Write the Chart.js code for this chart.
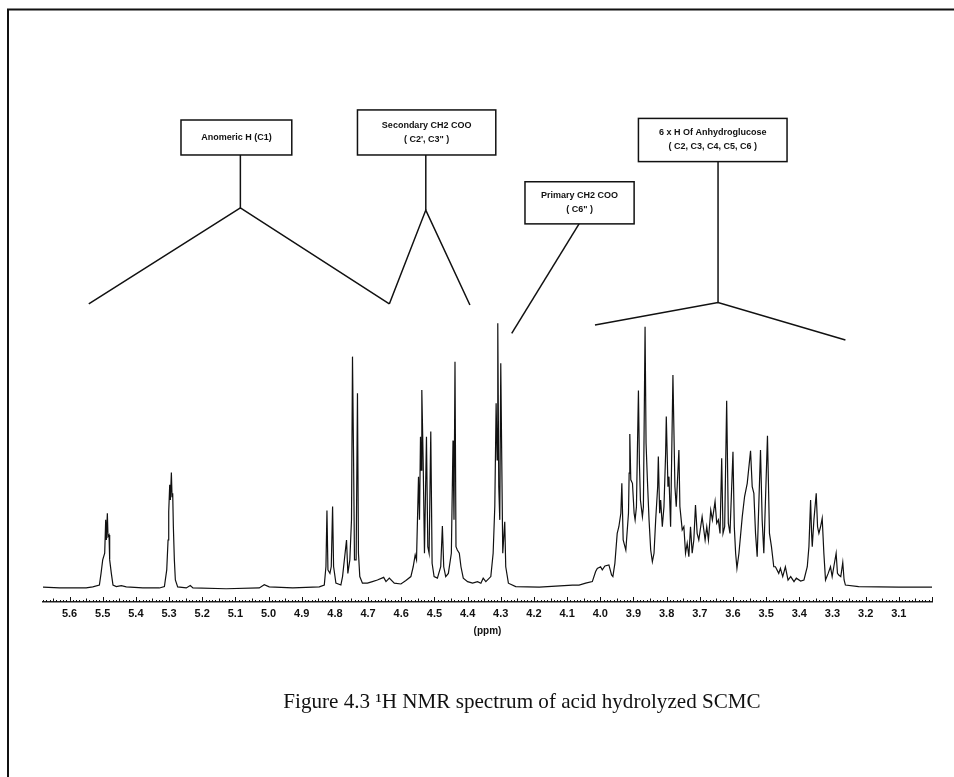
<!DOCTYPE html>
<html>
<head>
<meta charset="utf-8">
<script src="https://cdn.jsdelivr.net/npm/chart.js@4"></script>
<style>
html, body { margin: 0; padding: 0; background: #fff; }
canvas { display: block; }
</style>
</head>
<body>
<canvas id="nmr" width="954" height="777"></canvas>
<script>
// chemical shift (ppm) and intensity (tallest line = 100)
var shiftPpm = [
    5.680, 5.630, 5.550, 5.530, 5.510, 5.505, 5.500, 5.494, 5.491, 5.489, 5.486, 5.484, 5.481, 5.479, 5.474, 5.469, 5.459, 5.444, 5.429,
    5.379, 5.329, 5.314, 5.307, 5.303, 5.301, 5.298, 5.296, 5.293, 5.291, 5.289, 5.287, 5.284, 5.281, 5.274, 5.248, 5.236, 5.228,
    5.128, 5.028, 5.013, 4.998, 4.927, 4.847,
    4.832, 4.827, 4.824, 4.821, 4.815, 4.811, 4.807, 4.804, 4.797, 4.782, 4.777, 4.765, 4.761, 4.755, 4.750, 4.747, 4.744, 4.741,
    4.736, 4.732, 4.729, 4.725, 4.717, 4.702, 4.687, 4.672, 4.653, 4.646, 4.636, 4.621, 4.601, 4.586, 4.571, 4.564,
    4.558, 4.554, 4.548, 4.545, 4.542, 4.540, 4.538, 4.534, 4.530, 4.524, 4.520, 4.516, 4.511, 4.507, 4.501, 4.491, 4.481, 4.476,
    4.472, 4.466, 4.458, 4.449, 4.444, 4.441, 4.438, 4.435, 4.431, 4.425, 4.420, 4.413, 4.400, 4.385, 4.370, 4.360, 4.353, 4.345,
    4.330, 4.323, 4.318, 4.314, 4.311, 4.309, 4.306, 4.303, 4.300, 4.297, 4.294, 4.288, 4.285, 4.277, 4.255, 4.184, 4.084,
    4.064, 4.044, 4.024, 4.014, 4.009, 3.999, 3.994, 3.986, 3.974, 3.966, 3.962, 3.956, 3.949, 3.944, 3.938, 3.935, 3.931, 3.923,
    3.915, 3.913, 3.911, 3.908, 3.903, 3.898, 3.895, 3.891, 3.885, 3.882, 3.879, 3.873, 3.870, 3.865, 3.862, 3.858, 3.853, 3.848,
    3.843, 3.838, 3.833, 3.827, 3.825, 3.821, 3.818, 3.813, 3.808, 3.803, 3.801, 3.796, 3.793, 3.788, 3.781, 3.775, 3.771, 3.763,
    3.760, 3.753, 3.748, 3.743, 3.738, 3.733, 3.728, 3.723, 3.718, 3.713, 3.708, 3.703, 3.693, 3.684, 3.679, 3.674, 3.667, 3.662,
    3.654, 3.649, 3.644, 3.639, 3.634, 3.630, 3.625, 3.619, 3.614, 3.609, 3.600, 3.596, 3.592, 3.588, 3.582, 3.572, 3.565, 3.557,
    3.547, 3.542, 3.537, 3.532, 3.527, 3.517, 3.512, 3.507, 3.496, 3.490, 3.484, 3.477, 3.472, 3.462, 3.457, 3.450, 3.442, 3.434,
    3.426, 3.416, 3.409, 3.396, 3.386, 3.376, 3.371, 3.366, 3.363, 3.361, 3.356, 3.349, 3.345, 3.341, 3.336, 3.331, 3.326, 3.321,
    3.313, 3.306, 3.301, 3.296, 3.289, 3.285, 3.281, 3.275, 3.269, 3.265, 3.261, 3.221, 3.100, 3.000
];
var intensity = [
    0.3, 0, 0, 0.4, 1.1, 5.5, 10.6, 13.1, 25.7, 18.1, 28.2, 19.4, 20.0, 10.6, 5.5, 1.1, 0.5, 0.9, 0.4,
    0, 0, 0.5, 6.8, 18.1, 28.8, 38.9, 33.2, 43.6, 34.5, 35.7, 23.1, 10.6, 3.0, 0.4, 0, 0.9, 0,
    -0.3, 0, 1.2, 0.4, 0, 0.4,
    1.1, 8.1, 29.2, 6.8, 5.5, 8.1, 30.7, 8.1, 1.8, 1.1, 4.3, 18.1, 5.5, 10.6, 25.7, 87.3, 52.1, 10.6,
    10.6, 73.5, 13.1, 4.3, 1.8, 1.8, 2.4, 3.0, 4.0, 2.4, 3.7, 1.8, 1.5, 2.8, 4.3, 8.0,
    12.5, 10.6, 42.0, 25.7, 57.1, 44.5, 74.7, 48.3, 13.1, 57.1, 15.6, 13.1, 59.0, 9.3, 4.3, 3.7, 8.0, 23.4,
    8.0, 4.3, 5.5, 13.1, 55.6, 25.7, 85.4, 15.6, 14.3, 13.1, 8.0, 3.7, 2.4, 1.8, 2.4, 1.8, 3.7, 2.4,
    4.3, 13.1, 30.7, 69.7, 48.3, 99.9, 38.2, 25.7, 84.8, 48.3, 13.1, 25.0, 8.0, 1.8, 0.5, 0.3, 1.1,
    1.1, 1.8, 2.4, 6.2, 7.4, 8.0, 6.8, 8.3, 8.7, 4.9, 4.3, 9.3, 20.6, 23.1, 28.2, 39.5, 18.1, 14.3,
    28.2, 43.3, 58.1, 40.8, 39.5, 28.2, 25.7, 30.7, 74.5, 47.0, 33.2, 26.9, 30.7, 98.6, 54.6, 40.8, 25.7, 14.3,
    9.9, 13.1, 25.7, 38.2, 49.6, 28.2, 33.2, 23.1, 30.7, 50.8, 64.7, 38.2, 42.0, 23.1, 80.4, 38.2, 30.7, 52.1,
    30.7, 21.9, 23.1, 13.1, 16.9, 11.8, 23.1, 13.1, 18.1, 31.3, 20.6, 18.1, 26.9, 18.1, 23.1, 18.1, 29.4, 25.7,
    32.6, 24.4, 25.7, 20.6, 48.9, 20.6, 23.1, 70.6, 24.4, 20.6, 51.4, 23.1, 13.1, 7.4, 13.1, 26.9, 34.5, 39.5,
    51.8, 38.2, 35.7, 20.6, 11.8, 52.1, 25.7, 13.1, 57.4, 20.6, 15.6, 8.0, 8.0, 5.5, 7.4, 4.3, 8.0, 3.0,
    4.3, 2.4, 3.7, 2.6, 3.0, 8.0, 15.6, 33.2, 20.6, 15.6, 25.7, 35.7, 23.1, 20.6, 23.1, 26.3, 13.1, 3.0,
    5.5, 8.0, 4.3, 8.0, 13.1, 5.5, 4.9, 4.3, 9.6, 3.0, 1.1, 0.5, 0.3, 0.3
];
var tickValues = [5.6, 5.5, 5.4, 5.3, 5.2, 5.1, 5.0, 4.9, 4.8, 4.7, 4.6, 4.5, 4.4, 4.3, 4.2, 4.1, 4.0, 3.9, 3.8, 3.7, 3.6, 3.5, 3.4, 3.3, 3.2, 3.1];
var axisTitle = '(ppm)';
var caption = 'Figure 4.3 \u00B9H NMR spectrum of acid hydrolyzed SCMC';

// assignment callouts, placed in (ppm, intensity) units
var callouts = [
    { text: ['Anomeric H (C1)'], box: [5.264, 4.930, 176.6, 163.4],
      paths: [[[5.085, 163.4], [5.085, 143.4]], [[5.542, 107.2], [5.085, 143.4], [4.636, 107.2]]] },
    { text: ['Secondary CH2 COO', '( C2\', C3" )'], box: [4.732, 4.315, 180.4, 163.4],
      paths: [[[4.526, 163.4], [4.526, 142.6]], [[4.636, 107.2], [4.526, 142.6], [4.393, 106.8]]] },
    { text: ['Primary CH2 COO', '( C6" )'], box: [4.227, 3.898, 153.3, 137.4],
      paths: [[[4.064, 137.4], [4.267, 96.1]]] },
    { text: ['6 x H Of Anhydroglucose', '( C2, C3, C4, C5, C6 )'], box: [3.885, 3.437, 177.2, 160.9],
      paths: [[[3.645, 160.8], [3.645, 107.7]], [[4.016, 99.2], [3.645, 107.7], [3.261, 93.6]]] }
];

var decorPlugin = {
    id: 'decor',
    afterDraw: function (chart) {
        var ctx = chart.ctx, xs = chart.scales.x, ys = chart.scales.y;
        ctx.save();
        ctx.strokeStyle = '#111';
        ctx.fillStyle = '#111';

        // page frame
        ctx.lineWidth = 2;
        ctx.beginPath();
        ctx.moveTo(8, 777); ctx.lineTo(8, 9.5); ctx.lineTo(954, 9.5);
        ctx.stroke();

        // minor ticks on the ppm axis, pointing up
        var axisY = xs.top;
        ctx.lineWidth = 1;
        ctx.beginPath();
        for (var i = 300; i <= 568; i++) {
            var px = Math.round(xs.getPixelForValue(i / 100)) + 0.5;
            var len = i % 10 === 0 ? 5 : (i % 5 === 0 ? 3.5 : 2);
            ctx.moveTo(px, axisY);
            ctx.lineTo(px, axisY - len);
        }
        ctx.stroke();

        // callouts
        ctx.lineWidth = 1.5;
        ctx.font = 'bold 9px "Liberation Sans", Arial, sans-serif';
        ctx.textAlign = 'center';
        ctx.textBaseline = 'middle';
        callouts.forEach(function (c) {
            c.paths.forEach(function (p) {
                ctx.beginPath();
                p.forEach(function (pt, k) {
                    var x = xs.getPixelForValue(pt[0]), y = ys.getPixelForValue(pt[1]);
                    if (k === 0) ctx.moveTo(x, y); else ctx.lineTo(x, y);
                });
                ctx.stroke();
            });
            var l = xs.getPixelForValue(c.box[0]), r = xs.getPixelForValue(c.box[1]);
            var t = ys.getPixelForValue(c.box[2]), b = ys.getPixelForValue(c.box[3]);
            ctx.fillStyle = '#fff';
            ctx.fillRect(l, t, r - l, b - t);
            ctx.strokeRect(l, t, r - l, b - t);
            ctx.fillStyle = '#111';
            var cx = (l + r) / 2, cy = (t + b) / 2, gap = 14;
            c.text.forEach(function (line, k) {
                ctx.fillText(line, cx, cy + (k - (c.text.length - 1) / 2) * gap);
            });
        });

        // figure caption (the scan's serif is a little narrow)
        ctx.font = '22px "Liberation Serif", "Times New Roman", serif';
        ctx.textBaseline = 'alphabetic';
        ctx.translate(522, 708);
        ctx.scale(0.96, 1);
        ctx.fillText(caption, 0, 0);
        ctx.restore();
    }
};

new Chart(document.getElementById('nmr'), {
    type: 'line',
    data: {
        datasets: [{
            data: shiftPpm.map(function (p, i) { return { x: p, y: intensity[i] }; }),
            borderColor: '#111', borderWidth: 1.2, pointRadius: 0, tension: 0, fill: false
        }]
    },
    options: {
        responsive: false, animation: false, devicePixelRatio: 1,
        layout: { padding: { left: 43, right: 22, top: 84.5, bottom: 135 } },
        plugins: { legend: { display: false }, tooltip: { enabled: false } },
        scales: {
            x: {
                type: 'linear', reverse: true, min: 3.0, max: 5.68,
                afterBuildTicks: function (s) { s.ticks = tickValues.map(function (v) { return { value: v }; }); },
                afterFit: function (s) { s.height = 40; },
                grid: { display: false },
                border: { display: true, color: '#222', width: 1.4 },
                ticks: {
                    autoSkip: false, maxRotation: 0, padding: -3, color: '#111',
                    font: { family: '"Liberation Sans", Arial, sans-serif', size: 11, weight: 'bold' },
                    callback: function (v) { return Number(v).toFixed(1); }
                },
                title: {
                    display: true, text: axisTitle, color: '#111', padding: { top: 0, bottom: 5 },
                    font: { family: '"Liberation Sans", Arial, sans-serif', size: 10, weight: 'bold' }
                }
            },
            y: { display: false, min: -5.3, max: 190 }
        }
    },
    plugins: [decorPlugin]
});
</script>
</body>
</html>
